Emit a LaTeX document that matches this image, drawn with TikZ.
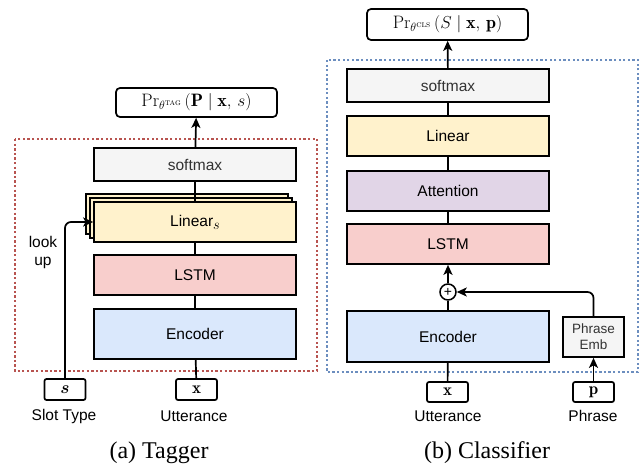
\documentclass[tikz,border=0pt]{standalone}
\usepackage{amsmath}
\usepackage{fontspec}
\newfontfamily\labelfont{Liberation Sans}
\newfontfamily\captionfont{Liberation Serif}
\usetikzlibrary{arrows.meta, shadows}

\definecolor{softgray}{HTML}{F5F5F5}
\definecolor{linyellow}{HTML}{FFF2CC}
\definecolor{lstmred}{HTML}{F8CECC}
\definecolor{encblue}{HTML}{DAE8FC}
\definecolor{attpurple}{HTML}{E1D5E7}
\definecolor{tagborder}{HTML}{B85450}
\definecolor{clsborder}{HTML}{6C8EBF}
\definecolor{darktext}{HTML}{333333}

\tikzset{
  layer/.style={draw, line width=1.7pt, minimum width=202pt, inner sep=0pt,
    font=\labelfont\fontsize{15.5}{18}\selectfont},
  outbox/.style={draw, line width=1.7pt, rounded corners=4pt, minimum width=161pt, inner sep=0pt,
    font=\fontsize{18}{22}\selectfont},
  inbox/.style={draw, line width=1.7pt, rounded corners=2pt, minimum width=41pt, minimum height=21pt, inner sep=0pt,
    font=\fontsize{17}{20}\selectfont},
  lbl/.style={font=\labelfont\fontsize{15.5}{18}\selectfont, inner sep=0pt},
  subcaption/.style={font=\captionfont\fontsize{24}{28}\selectfont, inner sep=0pt},
  frame/.style={line width=2.5pt, dash pattern=on 2.3pt off 2.3pt},
  link/.style={line width=1.7pt},
  flow/.style={line width=1.7pt, -{Stealth[length=10pt, width=9pt, inset=2.5pt]}}
}

\begin{document}
\begin{tikzpicture}[x=1pt, y=-1pt]
\useasboundingbox (0,0) rectangle (644,468);

% (a) Tagger
\draw[frame, tagborder] (15,139) rectangle (317,371);
\node[outbox, minimum height=29pt] (tagout) at (196.5,102.5) {$\Pr_{\theta^{\text{\scshape tag}}}\,(\mathbf{P} \mid \mathbf{x},\, s)$};
\node[layer, fill=softgray, text=darktext, minimum height=33pt] (tsoft) at (195,164.5) {softmax};
\node[layer, fill=linyellow, minimum height=40pt, double copy shadow={shadow xshift=-4pt, shadow yshift=4pt}] (tlin) at (195,222) {Linear\raisebox{-3pt}{$s$}};
\node[layer, fill=lstmred, minimum height=40pt] (tlstm) at (195,275) {LSTM};
\node[layer, fill=encblue, minimum height=50pt] (tenc) at (195,334) {Encoder};
\node[inbox] (ts) at (65,389.5) {$\boldsymbol{s}$};
\node[inbox] (tx) at (196.5,389.5) {$\mathbf{x}$};
\node[lbl] (tslot) at (64,416) {Slot Type};
\node[lbl] (tutt) at (194,416) {Utterance};
\node[lbl, align=center] (tlook) at (43,252) {look\\up};

\draw[link] (tx) -- (tenc);
\draw[link] (tenc) -- (tlstm);
\draw[link] (tlstm) -- (tlin);
\draw[link] (tlin) -- (tsoft);
\draw[flow] (tsoft) -- (tagout);
\draw[flow, rounded corners=6pt] (ts.north) |- (tlin.west);

\node[subcaption] (tcap) at (159,453) {(a) Tagger};

% (b) Classifier
\draw[frame, clsborder] (327,60) rectangle (638,372);
\node[outbox, minimum height=31pt] (clsout) at (447.5,24.5) {$\Pr_{\theta^{\text{\scshape cls}}}\,(S \mid \mathbf{x},\, \mathbf{p})$};
\node[layer, fill=softgray, text=darktext, minimum height=33pt] (csoft) at (448,85.5) {softmax};
\node[layer, fill=linyellow, minimum height=40pt] (clin) at (448,136) {Linear};
\node[layer, fill=attpurple, minimum height=40pt] (catt) at (448,191) {Attention};
\node[layer, fill=lstmred, minimum height=40pt] (clstm) at (448,244) {LSTM};
\node[circle, draw, fill=white, line width=1.5pt, minimum size=16pt, inner sep=0pt,
  font=\labelfont\fontsize{14}{14}\selectfont] (plus) at (448,292) {+};
\node[layer, fill=encblue, minimum height=51pt] (cenc) at (448,336.5) {Encoder};
\node[layer, fill=softgray, text=darktext, minimum width=61pt, minimum height=40pt, align=center,
  font=\labelfont\fontsize{13.5}{16}\selectfont] (cemb) at (593.5,337) {Phrase\\Emb};
\node[inbox, minimum height=20pt] (cx) at (447.5,392) {$\mathbf{x}$};
\node[inbox, minimum height=20pt] (cp) at (593.5,392) {$\mathbf{p}$};
\node[lbl] (cutt) at (448,416) {Utterance};
\node[lbl] (cphr) at (593,416) {Phrase};

\draw[link] (cx) -- (cenc);
\draw[link] (cenc) -- (plus);
\draw[flow] (plus) -- (clstm);
\draw[link] (clstm) -- (catt);
\draw[link] (catt) -- (clin);
\draw[link] (clin) -- (csoft);
\draw[flow] (csoft) -- (clsout);
\draw[flow] (cp) -- (cemb);
\draw[flow, rounded corners=6pt] (cemb.north) |- (plus.east);

\node[subcaption] (ccap) at (487,453) {(b) Classifier};
\end{tikzpicture}
\end{document}
